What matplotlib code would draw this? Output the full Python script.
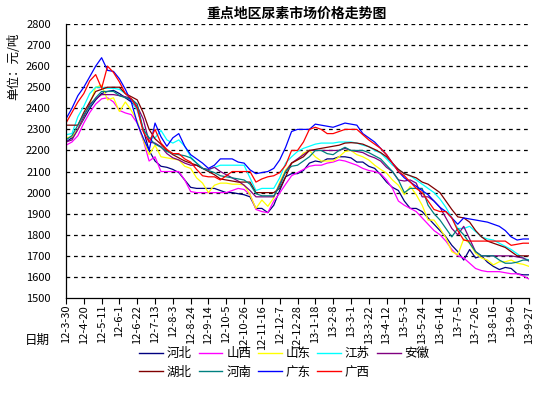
import matplotlib
matplotlib.use('Agg')
import matplotlib.pyplot as plt
from matplotlib.lines import Line2D

plt.rcParams['font.family'] = ['Noto Sans CJK SC', 'DejaVu Sans']

# weekly prices, 2012-03-30 .. 2013-09-27 (79 weeks)
tick_labels = ['12-3-30', '12-4-20', '12-5-11', '12-6-1', '12-6-22', '12-7-13', '12-8-3',
               '12-8-24', '12-9-14', '12-10-5', '12-10-26', '12-11-16', '12-12-7', '12-12-28',
               '13-1-18', '13-2-8', '13-3-1', '13-3-22', '13-4-12', '13-5-3', '13-5-24',
               '13-6-14', '13-7-5', '13-7-26', '13-8-16', '13-9-6', '13-9-27']

hebei = [2240, 2260, 2300, 2350, 2400, 2440, 2470, 2480, 2485, 2470, 2450, 2430, 2400, 2300, 2200,
         2150, 2125, 2120, 2110, 2095, 2060, 2025, 2020, 2020, 2020, 2020, 2010, 2000, 2000, 1995,
         1990, 1980, 1925, 1925, 1905, 1940, 2010, 2075, 2090, 2090, 2105, 2140, 2150, 2145, 2160,
         2160, 2170, 2170, 2165, 2145, 2145, 2125, 2115, 2085, 2050, 2025, 2010, 1960, 1925, 1925,
         1910, 1880, 1850, 1820, 1790, 1750, 1720, 1680, 1730, 1690, 1700, 1670, 1650, 1635, 1645,
         1640, 1615, 1610, 1610]
shanxi = [2225, 2240, 2270, 2330, 2380, 2420, 2445, 2450, 2430, 2390, 2378, 2370, 2330, 2250, 2150,
          2170, 2100, 2100, 2100, 2100, 2060, 2005, 2000, 2000, 2000, 2000, 2000, 2000, 2010, 2020,
          2015, 1990, 1920, 1910, 1905, 1960, 1998, 2040, 2080, 2095, 2110, 2125, 2130, 2130, 2140,
          2145, 2155, 2150, 2140, 2130, 2115, 2105, 2100, 2090, 2060, 2020, 1960, 1940, 1925, 1910,
          1880, 1850, 1820, 1800, 1770, 1730, 1700, 1690, 1665, 1640, 1630, 1625, 1625, 1625, 1620,
          1615, 1615, 1605, 1590]
shandong = [2260, 2265, 2300, 2360, 2420, 2500, 2510, 2440, 2450, 2385, 2430, 2390, 2340, 2250, 2180,
            2225, 2170, 2165, 2160, 2155, 2125, 2115, 2070, 2045, 2000, 2035, 2045, 2045, 2040, 2040,
            2036, 1990, 1925, 1965, 1935, 1975, 2050, 2108, 2140, 2155, 2188, 2200, 2170, 2150, 2150,
            2150, 2170, 2195, 2200, 2180, 2170, 2155, 2130, 2110, 2093, 2060, 2035, 1990, 2030, 1990,
            1940, 1870, 1870, 1830, 1785, 1720, 1705, 1780, 1760, 1712, 1690, 1680, 1657, 1672, 1672,
            1680, 1665, 1660, 1650]
jiangsu = [2275, 2280, 2360, 2410, 2470, 2500, 2500, 2495, 2495, 2490, 2470, 2440, 2390, 2300, 2260,
           2260, 2295, 2250, 2235, 2250, 2220, 2170, 2140, 2115, 2108, 2120, 2130, 2130, 2130, 2130,
           2130, 2070, 2010, 2020, 2020, 2020, 2070, 2140, 2170, 2195, 2210, 2220, 2230, 2235, 2235,
           2235, 2240, 2240, 2240, 2235, 2225, 2218, 2200, 2188, 2160, 2130, 2110, 2090, 2080, 2060,
           2040, 2020, 2000, 1970, 1930, 1880, 1830, 1830, 1840, 1815, 1790, 1780, 1775, 1760, 1745,
           1730, 1710, 1690, 1680]
anhui = [2240, 2250, 2300, 2360, 2420, 2445, 2465, 2465, 2465, 2460, 2455, 2445, 2410, 2350, 2240,
         2235, 2218, 2185, 2165, 2155, 2140, 2130, 2130, 2115, 2110, 2120, 2100, 2085, 2070, 2055,
         2035, 2010, 1980, 1980, 1980, 1980, 2040, 2100, 2140, 2160, 2180, 2200, 2200, 2200, 2200,
         2200, 2200, 2210, 2200, 2195, 2190, 2175, 2165, 2150, 2120, 2100, 2060, 2055, 2060, 2045,
         1980, 1980, 1960, 1930, 1880, 1830, 1800, 1840, 1780, 1720, 1700, 1700, 1700, 1700, 1700,
         1700, 1695, 1690, 1675]
hubei = [2320, 2320, 2320, 2380, 2430, 2480, 2490, 2500, 2500, 2500, 2470, 2455, 2440, 2380, 2300,
         2255, 2230, 2200, 2180, 2165, 2150, 2140, 2130, 2115, 2100, 2085, 2065, 2060, 2055, 2050,
         2050, 2050, 2000, 2000, 2000, 2000, 2020, 2075, 2140, 2155, 2170, 2200, 2205, 2210, 2215,
         2220, 2225, 2235, 2237, 2235, 2230, 2218, 2205, 2190, 2170, 2140, 2110, 2090, 2080, 2070,
         2050, 2040, 2020, 2000, 1960, 1920, 1885, 1880, 1860, 1820, 1790, 1770, 1760, 1750, 1740,
         1720, 1700, 1700, 1700]
henan = [2250, 2270, 2320, 2370, 2410, 2450, 2480, 2480, 2480, 2460, 2450, 2445, 2420, 2300, 2260,
         2230, 2215, 2195, 2185, 2180, 2175, 2165, 2140, 2115, 2105, 2095, 2080, 2075, 2070, 2065,
         2060, 2040, 1995, 1985, 1985, 1985, 2030, 2100, 2125, 2130, 2150, 2170, 2200, 2200, 2185,
         2180, 2200, 2215, 2200, 2200, 2200, 2190, 2175, 2160, 2130, 2100, 2060, 2000, 2020, 2020,
         2020, 1940, 1900, 1870, 1830, 1790, 1830, 1800, 1760, 1720, 1700, 1700, 1700, 1680, 1665,
         1665, 1670, 1680, 1680]
guangdong = [2350, 2400, 2460, 2500, 2550, 2600, 2640, 2580, 2575, 2540, 2490, 2430, 2330, 2260, 2200,
             2330, 2265, 2220, 2260, 2280, 2220, 2180, 2160, 2140, 2115, 2130, 2160, 2160, 2160, 2145,
             2140, 2108, 2090, 2095, 2100, 2115, 2155, 2215, 2290, 2300, 2300, 2300, 2325, 2320, 2315,
             2310, 2320, 2330, 2325, 2320, 2280, 2260, 2240, 2210, 2180, 2140, 2100, 2070, 2050, 2030,
             2010, 1990, 1960, 1930, 1910, 1880, 1850, 1880, 1875, 1870, 1865, 1860, 1850, 1840, 1820,
             1790, 1775, 1780, 1780]
guangxi = [2330, 2380, 2430, 2470, 2530, 2560, 2495, 2600, 2570, 2525, 2470, 2445, 2400, 2290, 2240,
           2300, 2235, 2205, 2185, 2185, 2160, 2145, 2110, 2080, 2075, 2075, 2060, 2080, 2100, 2100,
           2100, 2100, 2050, 2065, 2075, 2080, 2095, 2130, 2200, 2200, 2240, 2300, 2310, 2300, 2280,
           2280, 2290, 2300, 2300, 2300, 2275, 2250, 2230, 2210, 2180, 2140, 2100, 2080, 2050, 2020,
           2000, 1960, 1920, 1910, 1910, 1880, 1820, 1775, 1770, 1770, 1770, 1770, 1770, 1770, 1770,
           1750, 1755, 1760, 1760]

names = ['河北', '山西', '山东', '江苏', '安徽', '湖北', '河南', '广东', '广西']
series = [hebei, shanxi, shandong, jiangsu, anhui, hubei, henan, guangdong, guangxi]
colors = ['#000080', '#FF00FF', '#FFFF00', '#00FFFF', '#800080',
          '#800000', '#008080', '#0000FF', '#FF0000']

fig = plt.figure(figsize=(5.59, 3.94), dpi=100)
ax = fig.add_axes([66 / 559, 1 - 298 / 394, 463 / 559, 274 / 394])

x = list(range(len(hebei)))
for vals, c, n in zip(series, colors, names):
    ax.plot(x, vals, color=c, lw=0.9, label=n)

ax.set_xlim(0, len(x) - 1)
ax.set_ylim(1500, 2800)
ax.set_yticks(range(1500, 2801, 100))
ax.set_xticks(range(0, len(x), 3))
ax.set_xticklabels(tick_labels, rotation=90, fontsize=8)
ax.tick_params(axis='y', length=0, pad=11, labelsize=8)
ax.tick_params(axis='x', length=4, width=0.8, pad=1)
for yv in range(1600, 2801, 100):
    ax.axhline(yv, color='black', lw=0.9, ls=(0, (3, 3)), zorder=0)
ax.spines['top'].set_visible(False)
ax.spines['right'].set_visible(False)
ax.spines['left'].set_linewidth(0.9)
ax.spines['bottom'].set_linewidth(0.9)

fig.text(297 / 559, 1 - 14 / 394, '重点地区尿素市场价格走势图', ha='center', va='center',
         fontsize=10, fontweight='bold')
fig.text(14 / 559, 1 - 66 / 394, '单位：元/吨', rotation=90, ha='center', va='center', fontsize=9)
fig.text(37 / 559, 1 - 340 / 394, '日期', ha='center', va='center', fontsize=9)

# row-major legend order for a 5-column legend
order = [0, 5, 1, 6, 2, 7, 3, 8, 4]
handles = [Line2D([], [], color=colors[i], lw=1.0) for i in order]
labels = [names[i] for i in order]
fig.legend(handles, labels, ncol=5, frameon=False, fontsize=9,
           loc='center left', bbox_to_anchor=(128 / 559, 1 - 363 / 394),
           handlelength=1.9, handletextpad=0.3, columnspacing=0.55, labelspacing=0.45)

fig.savefig('out.png', dpi=100)
